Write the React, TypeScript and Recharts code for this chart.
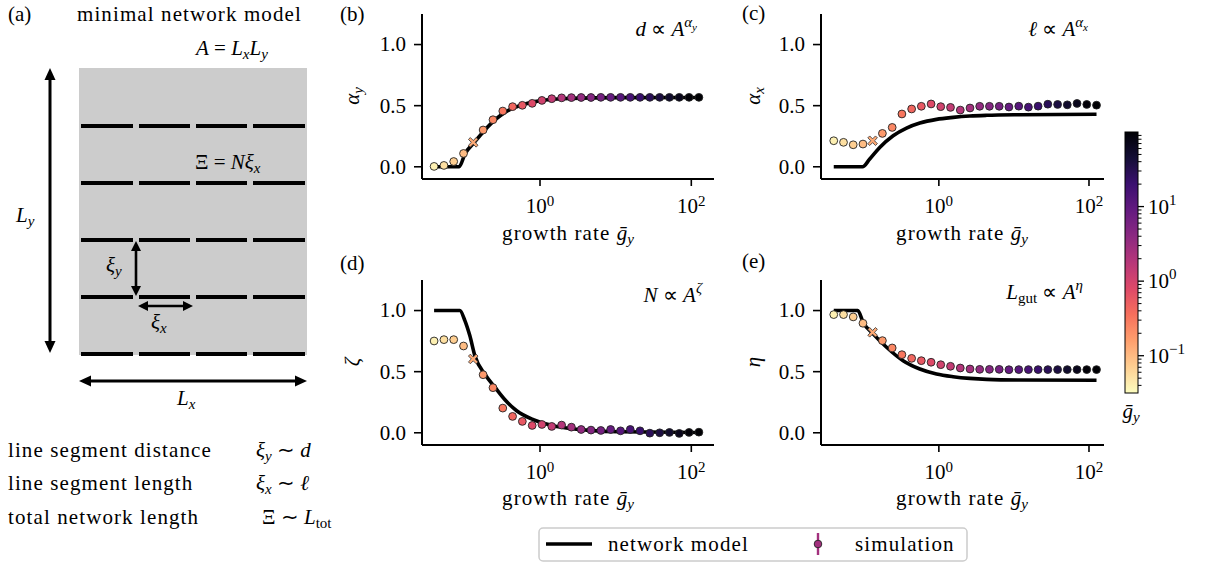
import React from 'react';
import { ComposedChart, Line, Scatter, XAxis, YAxis } from 'recharts';

// ---------------- data ----------------
const growthRate = [0.0398, 0.0537, 0.0723, 0.0975, 0.131, 0.177, 0.239, 0.322, 0.434, 0.584, 0.788, 1.06, 1.43, 1.93, 2.6, 3.5, 4.72, 6.37, 8.58, 11.6, 15.6, 21.0, 28.3, 38.2, 51.4, 69.3, 93.4, 126];
const crossIndex = 4;

const simAlphaY = [0.003, 0.011, 0.043, 0.109, 0.2, 0.301, 0.385, 0.456, 0.492, 0.503, 0.519, 0.543, 0.557, 0.564, 0.566, 0.567, 0.567, 0.568, 0.568, 0.568, 0.568, 0.568, 0.568, 0.568, 0.568, 0.568, 0.568, 0.568];
const simAlphaX = [0.213, 0.2, 0.18, 0.186, 0.213, 0.273, 0.322, 0.432, 0.473, 0.495, 0.514, 0.492, 0.486, 0.464, 0.481, 0.495, 0.495, 0.495, 0.489, 0.496, 0.488, 0.496, 0.512, 0.51, 0.507, 0.518, 0.51, 0.504];
const simZeta = [0.751, 0.762, 0.762, 0.71, 0.604, 0.475, 0.369, 0.202, 0.134, 0.093, 0.06, 0.068, 0.052, 0.063, 0.046, 0.027, 0.022, 0.019, 0.027, 0.016, 0.027, 0.016, -0.003, 0.0, 0.003, -0.005, 0.003, 0.005];
const simEta = [0.967, 0.967, 0.948, 0.896, 0.822, 0.754, 0.694, 0.639, 0.609, 0.59, 0.577, 0.557, 0.544, 0.53, 0.522, 0.519, 0.519, 0.519, 0.516, 0.517, 0.517, 0.517, 0.517, 0.517, 0.517, 0.517, 0.517, 0.517];

const modelAlphaYx = [0.0398, 0.0853, 0.1016, 0.1377, 0.187, 0.2535, 0.3436, 0.4667, 0.632, 0.859, 1.5, 2.49, 11.5, 126];
const modelAlphaYy = [0, 0, 0.104, 0.205, 0.301, 0.383, 0.445, 0.486, 0.514, 0.533, 0.552, 0.56, 0.566, 0.567];
const modelAlphaXx = [0.0398, 0.0962, 0.12, 0.163, 0.246, 0.371, 0.558, 0.931, 1.55, 2.59, 4.33, 12.0, 126];
const modelAlphaXy = [0, 0, 0.063, 0.158, 0.254, 0.317, 0.358, 0.388, 0.404, 0.415, 0.421, 0.426, 0.43];
const modelZetax = [0.0398, 0.0871, 0.1016, 0.118, 0.1377, 0.189, 0.256, 0.344, 0.491, 0.817, 1.5, 2.49, 4.15, 11.5, 126];
const modelZetay = [1, 1, 0.918, 0.795, 0.63, 0.475, 0.369, 0.27, 0.18, 0.107, 0.057, 0.035, 0.022, 0.008, 0.002];
const modelEtax = [0.0398, 0.0832, 0.098, 0.133, 0.201, 0.334, 0.558, 0.931, 1.55, 2.59, 4.33, 12.0, 126];
const modelEtay = [1, 1, 0.904, 0.809, 0.7, 0.59, 0.522, 0.481, 0.459, 0.445, 0.437, 0.432, 0.43];

const yTicks = [0, 0.5, 1.0];
const xTicks = [1, 100];
const cbarMajor = [-1, 0, 1];

// ---------------- style ----------------
const FONT = 'Liberation Serif';
const FS = 21;
const MAGMA = ['#000004', '#140e36', '#3b0f70', '#641a80', '#8c2981', '#b73779', '#de4968', '#f7705c', '#fe9f6d', '#fecf92', '#fcfdbf'];
const CB_LO = -1.5;
const CB_HI = 2.0;

function hex2rgb(h: string) {
  return [parseInt(h.slice(1, 3), 16), parseInt(h.slice(3, 5), 16), parseInt(h.slice(5, 7), 16)];
}
function magma(t: number) {
  const tt = Math.max(0, Math.min(1, t)) * (MAGMA.length - 1);
  const i = Math.min(Math.floor(tt), MAGMA.length - 2);
  const f = tt - i;
  const a = hex2rgb(MAGMA[i]);
  const b = hex2rgb(MAGMA[i + 1]);
  const c = a.map((v, k) => Math.round(v + (b[k] - v) * f));
  return `rgb(${c[0]},${c[1]},${c[2]})`;
}
function colorFor(g: number) {
  return magma(1 - (Math.log10(g) - CB_LO) / (CB_HI - CB_LO));
}

function simData(vals: number[]) {
  return growthRate.map((g, i) => ({ x: g, y: vals[i], fill: colorFor(g), cross: i === crossIndex }));
}
function lineData(xs: number[], ys: number[]) {
  return xs.map((x, i) => ({ x, y: ys[i] }));
}

const SimShape = (props: any) => {
  const { cx, cy, payload } = props;
  if (cx == null || cy == null) return null;
  if (payload.cross) {
    const s = 4.8;
    const w = 1.9;
    const d = `M${cx - s},${cy - s + w} L${cx - s + w},${cy - s} L${cx},${cy - w} L${cx + s - w},${cy - s} L${cx + s},${cy - s + w} L${cx + w},${cy} L${cx + s},${cy + s - w} L${cx + s - w},${cy + s} L${cx},${cy + w} L${cx - s + w},${cy + s} L${cx - s},${cy + s - w} L${cx - w},${cy} Z`;
    return <path d={d} fill={payload.fill} stroke="#333" strokeWidth={0.8} />;
  }
  return <circle cx={cx} cy={cy} r={3.9} fill={payload.fill} stroke="#222" strokeWidth={0.9} />;
};

const LogTick = (props: any) => {
  const { x, y, payload } = props;
  const e = Math.round(Math.log10(payload.value));
  return (
    <text x={x} y={y} textAnchor="middle" fill="#000" fontSize={FS} style={{ fontFamily: FONT }}>
      <tspan dy="1em">10</tspan>
      <tspan dy="-0.5em" fontSize={15}>{e}</tspan>
    </text>
  );
};

const NumTick = (props: any) => {
  const { x, y, payload } = props;
  return (
    <text x={x} y={y} dy="0.33em" textAnchor="end" fill="#000" fontSize={FS} style={{ fontFamily: FONT }}>{Number(payload.value).toFixed(1)}</text>
  );
};

type PanelProps = {
  plotLeft: number; plotRight: number; plotTop: number; plotBottom: number;
  xlo: number; xhi: number; sim: any[]; model: any[];
};

const Panel = ({ plotLeft, plotRight, plotTop, plotBottom, xlo, xhi, sim, model }: PanelProps) => {
  const W = plotRight - plotLeft + 90;
  const H = plotBottom - plotTop + 60;
  return (
    <div style={{ position: 'absolute', left: plotLeft - 80, top: plotTop - 10, width: W, height: H }}>
      <ComposedChart width={W} height={H} margin={{ top: 10, right: 10, bottom: 0, left: 0 }}>
        <XAxis
          dataKey="x" type="number" scale="log" domain={[Math.pow(10, xlo), Math.pow(10, xhi)]}
          allowDataOverflow ticks={xTicks} height={50} tickSize={7} tickMargin={6}
          axisLine={{ stroke: '#000', strokeWidth: 2 }} tickLine={{ stroke: '#000', strokeWidth: 1.6 }}
          tick={<LogTick />} interval={0}
        />
        <YAxis
          dataKey="y" type="number" domain={[-0.1, 1.25]} allowDataOverflow ticks={yTicks} width={80}
          tickSize={8} tickMargin={8}
          axisLine={{ stroke: '#000', strokeWidth: 2 }} tickLine={{ stroke: '#000', strokeWidth: 1.6 }}
          tick={<NumTick />} interval={0}
        />
        <Line data={model} dataKey="y" type="monotone" stroke="#000" strokeWidth={3.6} dot={false} isAnimationActive={false} />
        <Scatter data={sim} dataKey="y" shape={<SimShape />} isAnimationActive={false} />
      </ComposedChart>
    </div>
  );
};

function DArrow({ x1, y1, x2, y2, w = 3, hl = 12, hw = 5.5 }: any) {
  const dx = x2 - x1, dy = y2 - y1, L = Math.hypot(dx, dy);
  const ux = dx / L, uy = dy / L, px = -uy, py = ux;
  const head = (tx: number, ty: number, s: number) => {
    const bx = tx - s * ux * hl, by = ty - s * uy * hl;
    return `${tx},${ty} ${bx + px * hw},${by + py * hw} ${bx - px * hw},${by - py * hw}`;
  };
  return (
    <g>
      <line x1={x1 + ux * hl * 0.8} y1={y1 + uy * hl * 0.8} x2={x2 - ux * hl * 0.8} y2={y2 - uy * hl * 0.8} stroke="#000" strokeWidth={w} />
      <polygon points={head(x2, y2, 1)} fill="#000" />
      <polygon points={head(x1, y1, -1)} fill="#000" />
    </g>
  );
}

const It = ({ children, size, ...rest }: any) => (
  <tspan fontStyle="italic" fontSize={size || FS} {...rest}>{children}</tspan>
);
const Sm = ({ children, size, ...rest }: any) => (
  <tspan fontSize={size || 15} {...rest}>{children}</tspan>
);
const T = ({ children, ls, ...rest }: any) => (
  <text fontSize={FS} fill="#000" style={ls ? { fontFamily: FONT, letterSpacing: 1.1 } : { fontFamily: FONT }} {...rest}>{children}</text>
);

const dashRows = [126, 183, 240, 297, 354];
const dashCols = [[81, 133], [139, 190], [196, 247], [253, 305]];

const Overlay = () => {
  const cbTop = 132, cbBot = 393, cbL = 1125, cbR = 1138;
  const cbY = (v: number) => cbBot - ((v - CB_LO) / (CB_HI - CB_LO)) * (cbBot - cbTop);
  const minors: number[] = [];
  for (let d = -2; d <= 1; d++) for (let k = 2; k <= 9; k++) {
    const v = Math.log10(k) + d;
    if (v > CB_LO && v < CB_HI) minors.push(v);
  }
  const stops = [];
  for (let i = 0; i <= 20; i++) stops.push(<stop key={i} offset={i / 20} stopColor={magma(i / 20)} />);
  return (
    <svg width={1217} height={565} style={{ position: 'absolute', left: 0, top: 0, pointerEvents: 'none' }}>
      <defs>
        <linearGradient id="cb" x1="0" y1="0" x2="0" y2="1">{stops}</linearGradient>
      </defs>
      {/* panel (a) */}
      <rect x={79} y={68} width={228} height={287} fill="#cccccc" />
      {dashRows.map((y) => dashCols.map(([a, b], j) => (
        <line key={`${y}-${j}`} x1={a} x2={b} y1={y} y2={y} stroke="#000" strokeWidth={4} />
      )))}
      <DArrow x1={50} y1={68} x2={50} y2={353} />
      <DArrow x1={136} y1={241} x2={136} y2={296} w={2.6} hl={10} hw={5} />
      <DArrow x1={138} y1={306} x2={193} y2={306} w={2.6} hl={10} hw={5} />
      <DArrow x1={79} y1={381} x2={307} y2={381} />

      <T x={8} y={21}>(a)</T>
      <T x={77} y={21} ls>minimal network model</T>
      <T x={196} y={55}><It>A</It> = <It>L</It><It size={15} dy={4}>x</It><It dy={-4}>L</It><It size={15} dy={4}>y</It></T>
      <T x={195} y={169}>Ξ = <It>Nξ</It><It size={15} dy={4}>x</It></T>
      <T x={16} y={222}><It>L</It><It size={15} dy={4}>y</It></T>
      <T x={106} y={272}><It>ξ</It><It size={15} dy={4}>y</It></T>
      <T x={151} y={329}><It>ξ</It><It size={15} dy={4}>x</It></T>
      <T x={177} y={405}><It>L</It><It size={15} dy={4}>x</It></T>
      <T x={8} y={457} ls>line segment distance</T>
      <T x={8} y={490} ls>line segment length</T>
      <T x={8} y={524} ls>total network length</T>
      <T x={256} y={457}><It>ξ</It><It size={15} dy={4}>y</It><tspan dy={-4}> ∼ </tspan><It>d</It></T>
      <T x={256} y={490}><It>ξ</It><It size={15} dy={4}>x</It><tspan dy={-4}> ∼ </tspan><It>ℓ</It></T>
      <T x={262} y={524}>Ξ ∼ <It>L</It><Sm dy={4}>tot</Sm></T>

      {/* panel letters */}
      <T x={340} y={21}>(b)</T>
      <T x={742} y={20}>(c)</T>
      <T x={340} y={270}>(d)</T>
      <T x={742} y={268}>(e)</T>

      {/* annotations */}
      <T x={697} y={36} textAnchor="end"><It>d</It> ∝ <It>A</It><It size={15} dy={-9}>α</It><It size={11} dy={4}>y</It></T>
      <T x={1088} y={36} textAnchor="end"><It>ℓ</It> ∝ <It>A</It><It size={15} dy={-9}>α</It><It size={11} dy={4}>x</It></T>
      <T x={702} y={302} textAnchor="end"><It>N</It> ∝ <It>A</It><It size={15} dy={-9}>ζ</It></T>
      <T x={1083} y={299} textAnchor="end"><It>L</It><Sm dy={4}>gut</Sm><tspan dy={-4}> ∝ </tspan><It>A</It><It size={15} dy={-9}>η</It></T>

      {/* y labels */}
      <T transform="translate(359,96) rotate(-90)" textAnchor="middle"><It>α</It><It size={15} dy={4}>y</It></T>
      <T transform="translate(760,96) rotate(-90)" textAnchor="middle"><It>α</It><It size={15} dy={4}>x</It></T>
      <T transform="translate(359,362) rotate(-90)" textAnchor="middle"><It>ζ</It></T>
      <T transform="translate(760,362) rotate(-90)" textAnchor="middle"><It>η</It></T>

      {/* x labels */}
      {[[568, 240], [962, 240], [568, 505], [962, 505]].map(([x, y], i) => (
        <T key={i} x={x} y={y} textAnchor="middle"><tspan style={{ letterSpacing: 1.1 }}>growth rate </tspan><It>ḡ</It><It size={15} dy={4}>y</It></T>
      ))}

      {/* colorbar */}
      <rect x={cbL} y={cbTop} width={cbR - cbL} height={cbBot - cbTop} fill="url(#cb)" stroke="#000" strokeWidth={1} />
      {minors.map((v, i) => <line key={i} x1={cbR} x2={cbR + 3.5} y1={cbY(v)} y2={cbY(v)} stroke="#000" strokeWidth={1} />)}
      {cbarMajor.map((v) => (
        <g key={v}>
          <line x1={cbR} x2={cbR + 6} y1={cbY(v)} y2={cbY(v)} stroke="#000" strokeWidth={1.3} />
          <T x={cbR + 10} y={cbY(v) + 7}>10<Sm dy={-9}>{v === -1 ? '−1' : String(v)}</Sm></T>
        </g>
      ))}
      <T x={1131} y={418} textAnchor="middle"><It>ḡ</It><It size={15} dy={4}>y</It></T>

      {/* legend */}
      <rect x={539} y={528} width={428} height={33} rx={4} fill="#fff" stroke="#cccccc" strokeWidth={1.5} />
      <line x1={546} x2={592} y1={544} y2={544} stroke="#000" strokeWidth={3.6} />
      <T x={608} y={551} ls>network model</T>
      <line x1={818} x2={818} y1={533} y2={555} stroke="#a3307e" strokeWidth={2.4} />
      <circle cx={818} cy={544} r={3.8} fill="#a3307e" stroke="#222" strokeWidth={0.9} />
      <T x={855} y={551} ls>simulation</T>
    </svg>
  );
};

export default function App() {
  return (
    <div style={{ position: 'absolute', left: 0, top: 0, width: 1217, height: 565, background: '#fff', overflow: 'hidden' }}>
      <Panel plotLeft={422} plotRight={714} plotTop={13.5} plotBottom={178.5} xlo={-1.56} xhi={2.3}
        sim={simData(simAlphaY)} model={lineData(modelAlphaYx, modelAlphaYy)} />
      <Panel plotLeft={821} plotRight={1104} plotTop={13.5} plotBottom={178.5} xlo={-1.57} xhi={2.2}
        sim={simData(simAlphaX)} model={lineData(modelAlphaXx, modelAlphaXy)} />
      <Panel plotLeft={422} plotRight={714} plotTop={279.5} plotBottom={444.5} xlo={-1.56} xhi={2.3}
        sim={simData(simZeta)} model={lineData(modelZetax, modelZetay)} />
      <Panel plotLeft={821} plotRight={1104} plotTop={279.5} plotBottom={444.5} xlo={-1.57} xhi={2.2}
        sim={simData(simEta)} model={lineData(modelEtax, modelEtay)} />
      <Overlay />
    </div>
  );
}
